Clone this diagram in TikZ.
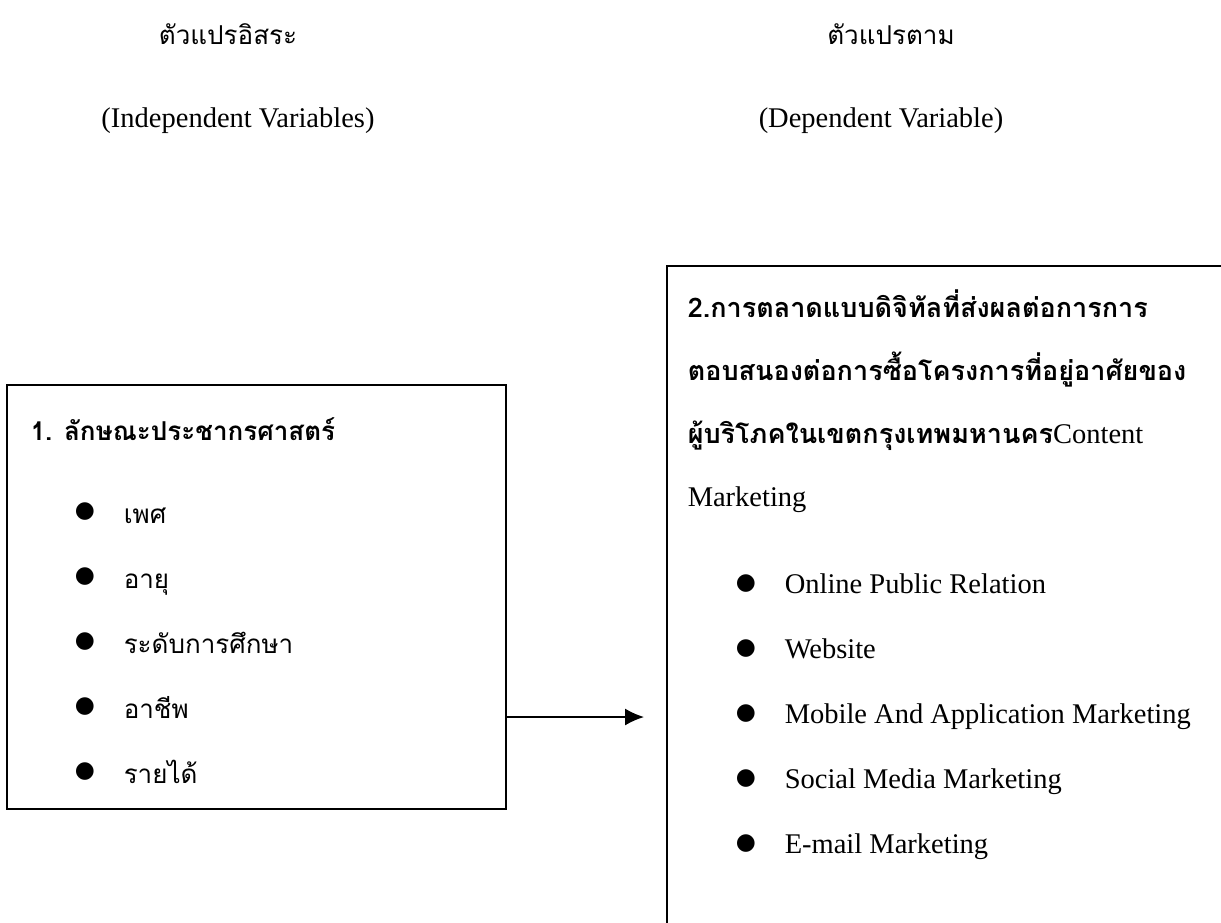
\documentclass[tikz,border=0pt]{standalone}
\usepackage{fontspec}
\setmainfont{Liberation Serif}
\newfontfamily\thaifont[Script=Thai]{Loma}
\newfontfamily\dotfont{DejaVu Sans}
\usetikzlibrary{arrows.meta}

\tikzset{
  thaitext/.style={anchor=base west, inner sep=0pt, font=\thaifont\fontsize{26}{30}\selectfont},
  thaititle/.style={anchor=base west, inner sep=0pt, font=\thaifont\bfseries\fontsize{26}{30}\selectfont},
  thaihead/.style={anchor=base, inner sep=0pt, font=\thaifont\fontsize{26}{30}\selectfont},
  engtext/.style={anchor=base west, inner sep=0pt, font=\fontsize{28.5}{34}\selectfont},
  enghead/.style={anchor=base, inner sep=0pt, font=\fontsize{28.5}{34}\selectfont},
  bulletmark/.style={inner sep=0pt, font=\dotfont\fontsize{23}{23}\selectfont},
  panel/.style={draw, line width=2pt, inner sep=0pt}
}

\begin{document}
\begin{tikzpicture}[x=1pt, y=-1pt, line width=1.5pt]

    \useasboundingbox (0,0) rectangle (1221,922);
    \clip (0,0) rectangle (1221,922);

    % headings
    \node[thaihead] (IndepTH) at (228,44)  {ตัวแปรอิสระ};
    \node[enghead]  (IndepEN) at (238,127) {(Independent Variables)};
    \node[thaihead] (DepTH)   at (891,44)  {ตัวแปรตาม};
    \node[enghead]  (DepEN)   at (881,127) {(Dependent Variable)};


    % 1
    \node[panel, minimum width=499pt, minimum height=424pt] (Demog) at (256.5,597) {};
    \node[thaititle] (DemogTitle) at (30,440) {1. ลักษณะประชากรศาสตร์};

    \node[bulletmark] (DotA1) at (85,512) {●};   \node[thaitext] (ItemA1) at (123,523) {เพศ};
    \node[bulletmark] (DotA2) at (85,577) {●};   \node[thaitext] (ItemA2) at (123,588) {อายุ};
    \node[bulletmark] (DotA3) at (85,642) {●};   \node[thaitext] (ItemA3) at (123,653) {ระดับการศึกษา};
    \node[bulletmark] (DotA4) at (85,707) {●};   \node[thaitext] (ItemA4) at (123,718) {อาชีพ};
    \node[bulletmark] (DotA5) at (85,772) {●};   \node[thaitext] (ItemA5) at (123,783) {รายได้};


    % 2
    \node[panel, line width=1.5pt, anchor=north west, minimum width=700pt, minimum height=800pt] (Digital) at (666,265) {};
    \node[thaititle, font=\thaifont\bfseries\fontsize{27}{31}\selectfont] (DigitalT1) at (687,317) {2.การตลาดแบบดิจิทัลที่ส่งผลต่อการการ};
    \node[thaititle, font=\thaifont\bfseries\fontsize{27}{31}\selectfont] (DigitalT2) at (687,380) {ตอบสนองต่อการซื้อโครงการที่อยู่อาศัยของ};
    \node[engtext]   (DigitalT3) at (687,443) {{\thaifont\bfseries\fontsize{27}{31}\selectfont ผู้บริโภคในเขตกรุงเทพมหานคร}Content};
    \node[engtext]   (DigitalT4) at (687,506) {Marketing};

    \node[bulletmark] (DotB1) at (746,584) {●};   \node[engtext] (ItemB1) at (784,593) {Online Public Relation};
    \node[bulletmark] (DotB2) at (746,649) {●};   \node[engtext] (ItemB2) at (784,658) {Website};
    \node[bulletmark] (DotB3) at (746,714) {●};   \node[engtext] (ItemB3) at (784,723) {Mobile And Application Marketing};
    \node[bulletmark] (DotB4) at (746,779) {●};   \node[engtext] (ItemB4) at (784,788) {Social Media Marketing};
    \node[bulletmark] (DotB5) at (746,844) {●};   \node[engtext] (ItemB5) at (784,853) {E-mail Marketing};


    \coordinate (ArrowEnd) at (644,717);
    \draw[-{Latex[length=19pt,width=17pt]}] (Demog.east |- ArrowEnd) -- (ArrowEnd);

\end{tikzpicture}
\end{document}
